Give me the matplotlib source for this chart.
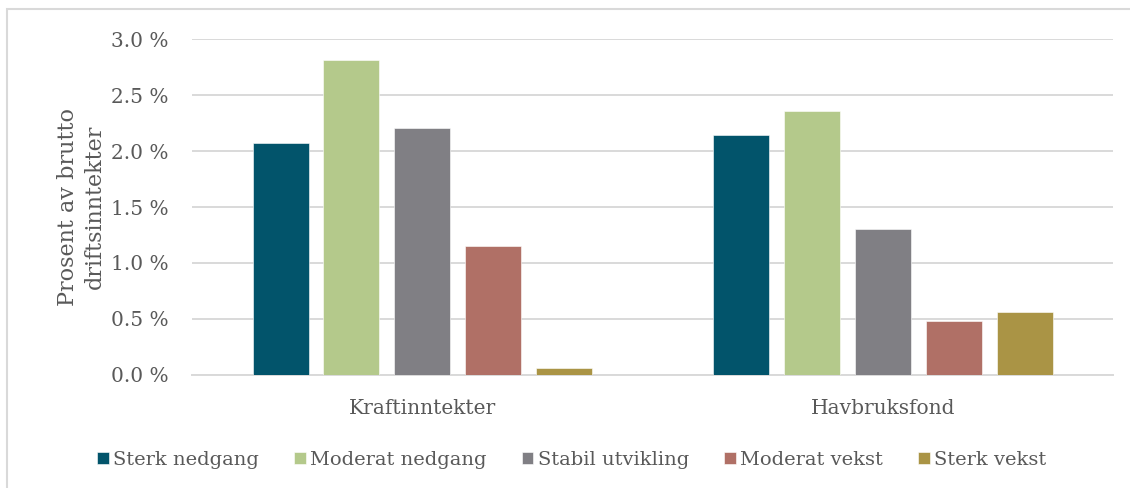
import matplotlib
matplotlib.use("Agg")
import matplotlib.pyplot as plt
import numpy as np
from matplotlib.patches import Rectangle

categories = ["Kraftinntekter", "Havbruksfond"]
scenarios = ["Sterk nedgang", "Moderat nedgang", "Stabil utvikling", "Moderat vekst", "Sterk vekst"]
colors = ["#02546B", "#B4C98B", "#807F84", "#B07066", "#AA9445"]
values = {
    "Sterk nedgang": [2.07, 2.14],
    "Moderat nedgang": [2.81, 2.36],
    "Stabil utvikling": [2.21, 1.30],
    "Moderat vekst": [1.15, 0.48],
    "Sterk vekst": [0.065, 0.56],
}
yticks = [0.0, 0.5, 1.0, 1.5, 2.0, 2.5, 3.0]

plt.rcParams["font.family"] = ["DejaVu Serif"]
text_color = "#595959"

fig = plt.figure(figsize=(11.3, 4.88), dpi=100)
ax = fig.add_axes([0.170, 0.2316, 0.815, 0.6884])

x = np.arange(len(categories))
step = 0.154
width = 0.1216
for i, s in enumerate(scenarios):
    ax.bar(x + (i - 2) * step, values[s], width=width, color=colors[i],
           label=s, zorder=3, edgecolor="white", linewidth=0.4)

ax.set_xlim(-0.5, 1.5)
ax.set_ylim(0, 3.0)
ax.set_yticks(yticks)
ax.set_yticklabels([f"{t:.1f} %" for t in yticks])
ax.set_xticks(x)
ax.set_xticklabels(categories)
ax.yaxis.grid(True, color="#D9D9D9", linewidth=1.4, zorder=0)
ax.set_axisbelow(True)
for sp in ["top", "right", "left"]:
    ax.spines[sp].set_visible(False)
ax.spines["bottom"].set_color("#D9D9D9")
ax.spines["bottom"].set_linewidth(1.4)
ax.tick_params(axis="both", length=0, labelsize=14.5, colors=text_color)
ax.tick_params(axis="y", pad=17)
ax.tick_params(axis="x", pad=17)

ax.set_ylabel("Prosent av brutto\ndriftsinntekter", fontsize=16, color=text_color,
              linespacing=1.25)
ax.yaxis.set_label_coords(-0.094, 0.5)

ax.legend(loc="center", bbox_to_anchor=(0.506, 0.0575), bbox_transform=fig.transFigure,
          ncol=5, frameon=False, fontsize=14, labelcolor=text_color,
          handlelength=0.6, handleheight=0.6, handletextpad=0.25, columnspacing=1.78)

fig.patches.append(Rectangle((7 / 1130, -0.1), 1.2, 1 - 9 / 488 + 0.1,
                             transform=fig.transFigure, fill=False,
                             edgecolor="#D9D9D9", linewidth=1.5))

fig.savefig("out.png", dpi=100)
